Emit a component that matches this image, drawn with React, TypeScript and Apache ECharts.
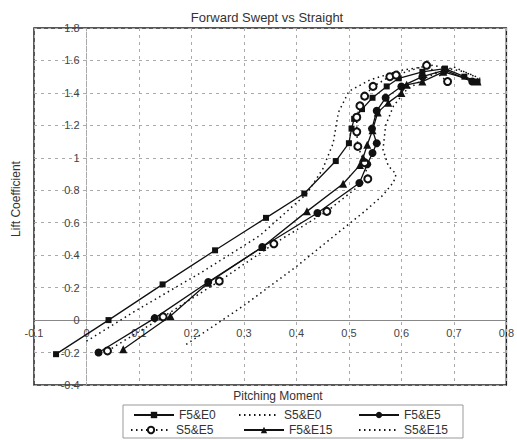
import React, { useEffect, useRef } from 'react';
import * as echarts from 'echarts';

const seriesNames = ['F5&E0', 'S5&E0', 'F5&E5', 'S5&E5', 'F5&E15', 'S5&E15'];

const F5E0 = [[-0.058, -0.21], [0.042, 0.0], [0.145, 0.22], [0.245, 0.43], [0.342, 0.63], [0.415, 0.78], [0.475, 0.98], [0.5, 1.09], [0.505, 1.18], [0.51, 1.24], [0.525, 1.3], [0.545, 1.37], [0.572, 1.44], [0.595, 1.49], [0.64, 1.53], [0.683, 1.55], [0.72, 1.5], [0.745, 1.47]];
const S5E0 = [[0.0, -0.13], [0.1, 0.07], [0.217, 0.29], [0.33, 0.52], [0.42, 0.78], [0.45, 0.93], [0.47, 1.09], [0.48, 1.28], [0.5, 1.41], [0.54, 1.48], [0.6, 1.54], [0.66, 1.57], [0.72, 1.53], [0.75, 1.49]];
const F5E5 = [[0.023, -0.2], [0.13, 0.012], [0.232, 0.235], [0.335, 0.45], [0.44, 0.66], [0.52, 0.845], [0.535, 0.96], [0.545, 1.03], [0.553, 1.09], [0.544, 1.18], [0.553, 1.29], [0.57, 1.37], [0.6, 1.44], [0.64, 1.5], [0.683, 1.54], [0.735, 1.47]];
const S5E5 = [[0.04, -0.19], [0.146, 0.02], [0.253, 0.24], [0.357, 0.47], [0.458, 0.67], [0.536, 0.87], [0.53, 0.97], [0.517, 1.07], [0.515, 1.16], [0.515, 1.25], [0.521, 1.32], [0.53, 1.38], [0.546, 1.44], [0.578, 1.5], [0.59, 1.51], [0.648, 1.57], [0.688, 1.47]];
const F5E15 = [[0.07, -0.18], [0.16, 0.025], [0.232, 0.23], [0.335, 0.45], [0.42, 0.67], [0.489, 0.84], [0.521, 0.955], [0.527, 1.0], [0.535, 1.08], [0.545, 1.17], [0.555, 1.28], [0.575, 1.34], [0.6, 1.4], [0.61, 1.45], [0.64, 1.47], [0.68, 1.53], [0.745, 1.47]];
const S5E15 = [[0.19, -0.15], [0.3, 0.09], [0.4, 0.33], [0.48, 0.54], [0.53, 0.67], [0.565, 0.77], [0.585, 0.85], [0.59, 0.9], [0.575, 0.95], [0.565, 1.05], [0.57, 1.2], [0.585, 1.32], [0.61, 1.42], [0.65, 1.5], [0.7, 1.56], [0.74, 1.5]];

const seriesData = [F5E0, S5E0, F5E5, S5E5, F5E15, S5E15];

const X_MIN = -0.1, X_MAX = 0.8, X_STEP = 0.1;
const Y_MIN = -0.4, Y_MAX = 1.8, Y_STEP = 0.2;

const FONT = 'Liberation Sans, Arial, sans-serif';
const INK = '#111';

const solid = { color: INK, width: 1.3, type: 'solid' };
const dotted = { color: INK, width: 1.5, type: [1.5, 3.5] };

const styles = [
  { line: solid, symbol: 'rect', size: 6 },
  { line: dotted, symbol: 'none', size: 0 },
  { line: solid, symbol: 'circle', size: 8 },
  { line: dotted, symbol: 'emptyCircle', size: 7 },
  { line: solid, symbol: 'triangle', size: 8 },
  { line: dotted, symbol: 'none', size: 0 },
];

const legendLeft = [133, 238, 358, 130, 243, 358];
const legendTop = [409, 409, 409, 424, 424, 424];

const G = { left: 34, right: 9, top: 28, bottom: 55, width: 517, height: 440 };

export default function App() {
  const ref = useRef<HTMLDivElement>(null);
  useEffect(() => {
    if (!ref.current) return;
    const plotW = G.width - G.left - G.right;
    const plotH = G.height - G.top - G.bottom;
    // distance of the zero lines from the grid edges
    const xAxisOffset = -((0 - Y_MIN) / (Y_MAX - Y_MIN)) * plotH;
    const yAxisOffset = -((0 - X_MIN) / (X_MAX - X_MIN)) * plotW;
    const chart = echarts.init(ref.current, undefined, { renderer: 'svg' });
    chart.setOption({
      animation: false,
      backgroundColor: '#fff',
      grid: {
        left: G.left, right: G.right, top: G.top, bottom: G.bottom,
        show: true, borderColor: '#222', borderWidth: 1.5, backgroundColor: 'transparent',
      },
      xAxis: {
        type: 'value', min: X_MIN, max: X_MAX, interval: X_STEP,
        position: 'bottom', offset: xAxisOffset,
        axisLine: { onZero: false, lineStyle: { color: '#888', width: 1 } },
        axisTick: { show: false },
        axisLabel: { color: '#444', fontSize: 11, fontFamily: FONT, margin: 7 },
        splitLine: { show: true, lineStyle: { color: '#aaa', type: [3, 4], width: 1 } },
      },
      yAxis: {
        type: 'value', min: Y_MIN, max: Y_MAX, interval: Y_STEP,
        position: 'left', offset: yAxisOffset,
        axisLine: { onZero: false, lineStyle: { color: '#aaa', type: [3, 4], width: 1 } },
        axisTick: { show: false },
        axisLabel: { color: '#444', fontSize: 11, fontFamily: FONT, margin: 7 },
        splitLine: { show: true, lineStyle: { color: '#aaa', type: [3, 4], width: 1 } },
      },
      legend: seriesNames.map((n, i) => ({
        data: [styles[i].symbol === 'none' ? { name: n, itemStyle: { opacity: 0 } } : n],
        left: legendLeft[i],
        top: legendTop[i],
        padding: 0,
        itemWidth: 40,
        itemHeight: 8,
        selectedMode: false,
        textStyle: { color: '#333', fontSize: 12, fontFamily: FONT },
      })),
      graphic: [
        {
          type: 'text', x: 267, y: 17,
          style: { text: 'Forward Swept vs Straight', textAlign: 'center', textVerticalAlign: 'middle', font: '13px Liberation Sans, Arial, sans-serif', fill: '#333' },
        },
        {
          type: 'text', x: 278, y: 396,
          style: { text: 'Pitching Moment', textAlign: 'center', textVerticalAlign: 'middle', font: '12px Liberation Sans, Arial, sans-serif', fill: '#333' },
        },
        {
          type: 'text', x: 16, y: 199, rotation: Math.PI / 2,
          style: { text: 'Lift Coefficient', textAlign: 'center', textVerticalAlign: 'middle', font: '12px Liberation Sans, Arial, sans-serif', fill: '#333' },
        },
        {
          type: 'rect', shape: { x: 123, y: 405, width: 340, height: 33 },
          style: { fill: 'none', stroke: '#999', lineWidth: 1 },
        },
      ],
      series: seriesNames.map((n, i) => ({
        name: n,
        type: 'line',
        data: seriesData[i],
        symbol: styles[i].symbol,
        symbolSize: styles[i].size,
        showSymbol: styles[i].symbol !== 'none',
        lineStyle: styles[i].line,
        itemStyle: { color: INK, borderColor: INK, borderWidth: styles[i].symbol === 'emptyCircle' ? 1.5 : 0 },
        emphasis: { disabled: true },
        z: 3,
      })),
    });
    return () => chart.dispose();
  }, []);
  return <div ref={ref} style={{ position: 'fixed', left: 0, top: 0, width: 517, height: 440 }} />;
}
